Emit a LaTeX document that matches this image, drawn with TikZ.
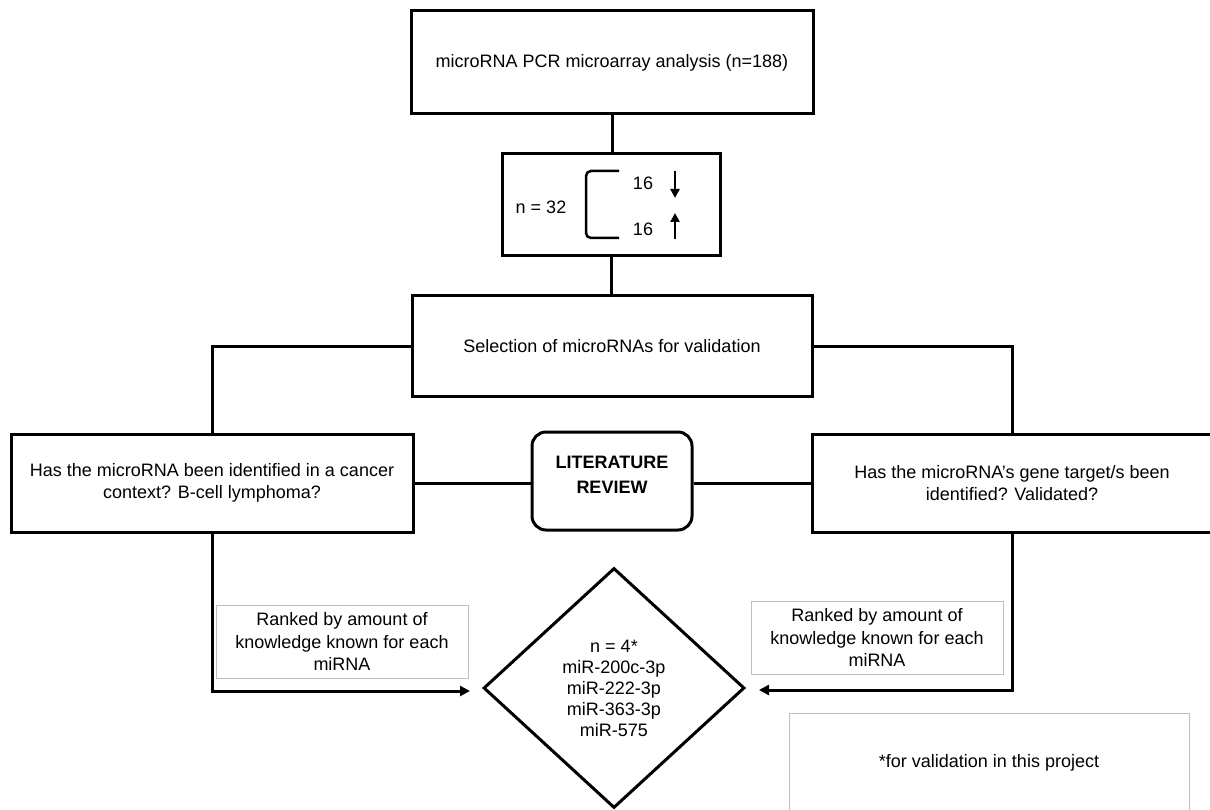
\documentclass[tikz,border=0pt]{standalone}
\usepackage{fontspec}
\setmainfont{Liberation Sans}
\usetikzlibrary{shapes.geometric,arrows.meta}
\begin{document}
\begin{tikzpicture}[x=1pt,y=-1pt,
  every node/.style={font=\fontsize{18}{22.5}\selectfont, align=center, inner sep=0pt},
  mainbox/.style={draw, line width=3pt, minimum width=#1},
  conn/.style={line width=3pt},
  arrowconn/.style={line width=3pt, -{Triangle[length=10pt,width=10pt]}},
  rankbox/.style={draw=black!25, line width=1pt, minimum width=252pt, minimum height=73pt},
  smallarrow/.style={line width=2.5pt, -{Triangle[length=9pt,width=9pt]}}
]
\useasboundingbox (0,0) rectangle (1210,810);

\node[mainbox=402pt, minimum height=103pt] (top) at (612,62.5) {microRNA PCR microarray analysis (n=188)};
\node[mainbox=218pt, minimum height=102pt] (n32) at (611,205) {};
\node (n32t) at (541,207) {n = 32};
\node (down) at (643,183) {16};
\node (up) at (643,229) {16};
\draw[line width=2.5pt, rounded corners=5pt] (619,171) -- (586,171) -- (586,238) -- (619,238);
\draw[smallarrow] (675,171) -- (675,198);
\draw[smallarrow] (675,239) -- (675,213);

\node[mainbox=400pt, minimum height=100pt] (sel) at (612,346) {Selection of microRNAs for validation};
\node[mainbox=402pt, minimum height=98pt] (left) at (212,483) {Has the microRNA been identified in a cancer\\context? B-cell lymphoma?};
\node[mainbox=400pt, minimum height=98pt] (right) at (1012,483) {Has the microRNA’s gene target/s been\\identified? Validated?};
\node[draw, line width=3pt, rounded corners=14pt, minimum width=160pt, minimum height=98pt] (lit) at (612,481) {};
\node[font=\fontsize{18}{25}\selectfont\bfseries] (litt) at (612,475) {LITERATURE\\REVIEW};

\node[draw, diamond, line width=3pt, minimum width=261pt, minimum height=240pt, font=\fontsize{18}{21}\selectfont] (dia) at (614,688) {n = 4*\\miR-200c-3p\\miR-222-3p\\miR-363-3p\\miR-575};

\node[rankbox] (rankL) at (342,641.5) {Ranked by amount of\\knowledge known for each\\miRNA};
\node[rankbox] (rankR) at (877,637.5) {Ranked by amount of\\knowledge known for each\\miRNA};
\node[draw=black!25, line width=1pt, minimum width=400pt, minimum height=100pt] (foot) at (989,763) {*for validation in this project};

\coordinate (arrL) at (470,691);
\coordinate (arrR) at (759,690);

\draw[conn] (top.south) -- (top.south |- n32.north);
\draw[conn] (n32.south) -- (n32.south |- sel.north);
\draw[conn] (sel.west) -| (left.north);
\draw[conn] (sel.east) -| (right.north);
\draw[conn] (left.east) -- (left.east -| lit.west);
\draw[conn] (lit.east |- right.west) -- (right.west);
\draw[arrowconn] (left.south) |- (arrL);
\draw[arrowconn] (right.south) |- (arrR);
\end{tikzpicture}
\end{document}
